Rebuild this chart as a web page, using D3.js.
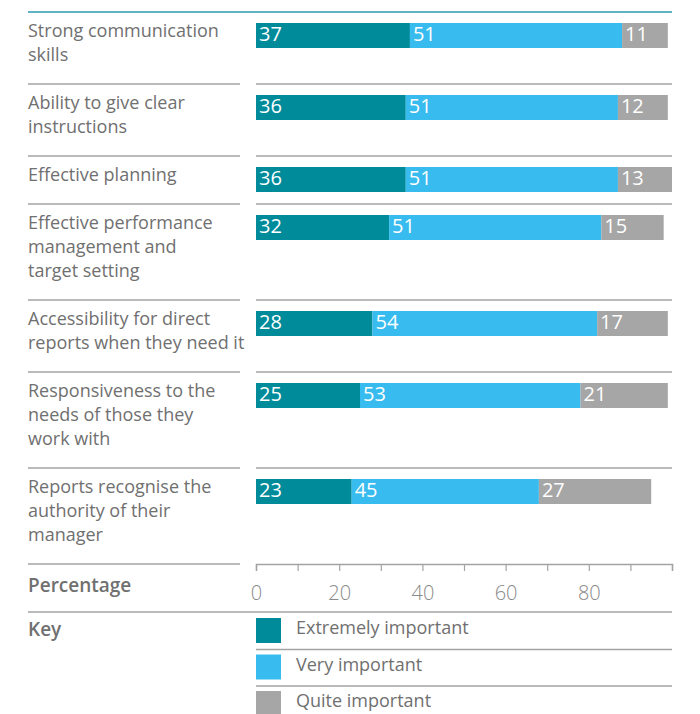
<!DOCTYPE html>
<html><head><meta charset="utf-8">
<script src="https://cdn.jsdelivr.net/npm/d3@7"></script>
<style>body{margin:0;background:#fff}svg{display:block}</style>
</head><body>
<svg id="c" width="700" height="714"></svg>
<script>
const categories = [
  ["Strong communication", "skills"],
  ["Ability to give clear", "instructions"],
  ["Effective planning"],
  ["Effective performance", "management and", "target setting"],
  ["Accessibility for direct", "reports when they need it"],
  ["Responsiveness to the", "needs of those they", "work with"],
  ["Reports recognise the", "authority of their", "manager"]
];
const extremely = [37, 36, 36, 32, 28, 25, 23];
const very = [51, 51, 51, 51, 54, 53, 45];
const quite = [11, 12, 13, 15, 17, 21, 27];
const seriesNames = ["Extremely important", "Very important", "Quite important"];
const tickLabels = [0, 20, 40, 60, 80];
const minorTicks = [0, 10, 20, 30, 40, 50, 60, 70, 80, 90, 100];

const colors = ["#008b9b", "#38bbee", "#a6a6a6"];
const textColor = "#707070";
const lineColor = "#a3a3a3";
const font = "'Open Sans', sans-serif";

const svg = d3.select("#c");
const leftX0 = 28, leftX1 = 240;
const x = d3.scaleLinear().domain([0, 100]).range([256, 672]);

const lineH = 24, topY = 12;
let rows = [], y = topY;
categories.forEach((c, i) => {
  const h = c.length * lineH + 24;
  rows.push({ i, y0: y, h, lines: c });
  y += h;
});
const axisY = y;

svg.append("line").attr("x1", leftX0).attr("x2", x(100)).attr("y1", topY).attr("y2", topY)
  .attr("stroke", "#2a9aae").attr("stroke-width", 1.5);

rows.slice(1).forEach(r => {
  svg.append("line").attr("x1", leftX0).attr("x2", leftX1).attr("y1", r.y0).attr("y2", r.y0)
    .attr("stroke", lineColor).attr("stroke-width", 1.5);
  svg.append("line").attr("x1", x(0)).attr("x2", x(100)).attr("y1", r.y0).attr("y2", r.y0)
    .attr("stroke", lineColor).attr("stroke-width", 1.5);
});

rows.forEach(r => {
  const t = svg.append("text").attr("fill", textColor).style("font-family", font).style("font-size", "18px");
  r.lines.forEach((ln, k) => {
    t.append("tspan").attr("x", leftX0).attr("y", r.y0 + 25 + k * lineH).text(ln);
  });
});

const series = [extremely, very, quite];
rows.forEach(r => {
  let cum = 0;
  series.forEach((s, si) => {
    const v = s[r.i];
    const bx = x(cum), bw = x(cum + v) - x(cum);
    const by = r.y0 + 11;
    svg.append("rect").attr("x", bx).attr("y", by).attr("width", bw).attr("height", 25).attr("fill", colors[si]);
    svg.append("text").attr("x", bx + 3).attr("y", by + 18).attr("fill", "#fff")
      .style("font-family", font).style("font-size", "20px").text(v);
    cum += v;
  });
});

svg.append("line").attr("x1", leftX0).attr("x2", leftX1).attr("y1", axisY).attr("y2", axisY)
  .attr("stroke", lineColor).attr("stroke-width", 1.5);
const ax = svg.append("g").attr("transform", `translate(0,${axisY})`)
  .call(d3.axisBottom(x).tickValues(minorTicks).tickSize(7).tickFormat(""));
ax.select(".domain").attr("stroke", lineColor).attr("stroke-width", 1.5);
ax.selectAll(".tick line").attr("stroke", lineColor).attr("stroke-width", 1.2);
const ax2 = svg.append("g").attr("transform", `translate(0,${axisY})`)
  .call(d3.axisBottom(x).tickValues(tickLabels).tickSize(0).tickPadding(22));
ax2.select(".domain").remove();
ax2.selectAll(".tick text").attr("fill", "#8a8a8a").style("font-family", font)
  .style("font-size", "20px").style("font-weight", 300);

svg.append("text").attr("x", leftX0).attr("y", axisY + 28).attr("fill", textColor)
  .style("font-family", font).style("font-size", "19px").style("font-weight", 600).text("Percentage");

const keyY = axisY + 48;
svg.append("line").attr("x1", leftX0).attr("x2", x(100)).attr("y1", keyY).attr("y2", keyY)
  .attr("stroke", lineColor).attr("stroke-width", 1.5);
svg.append("text").attr("x", leftX0).attr("y", keyY + 24).attr("fill", textColor)
  .style("font-family", font).style("font-size", "19px").style("font-weight", 600).text("Key");

seriesNames.forEach((n, i) => {
  const ky = keyY + 6 + i * 36.5;
  if (i > 0) {
    svg.append("line").attr("x1", x(0)).attr("x2", x(100)).attr("y1", ky - 5).attr("y2", ky - 5)
      .attr("stroke", lineColor).attr("stroke-width", 1.5);
  }
  svg.append("rect").attr("x", x(0)).attr("y", ky).attr("width", 25).attr("height", 25).attr("fill", colors[i]);
  svg.append("text").attr("x", 296).attr("y", ky + 16).attr("fill", textColor)
    .style("font-family", font).style("font-size", "18px").text(n);
});
</script>
</body></html>
